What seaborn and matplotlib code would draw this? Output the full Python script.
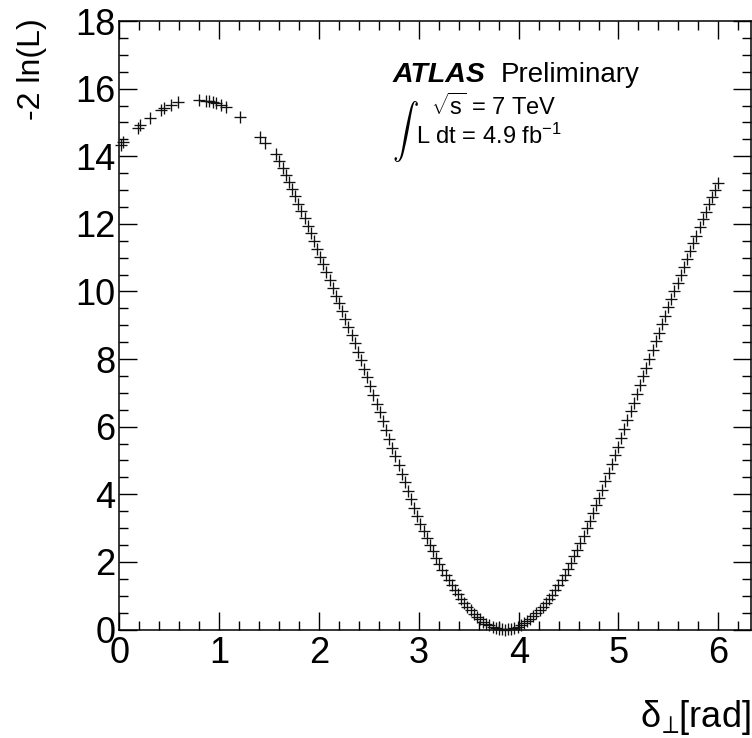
import pandas as pd
import matplotlib
matplotlib.use("Agg")
import matplotlib.pyplot as plt
import seaborn as sns
from matplotlib.ticker import MultipleLocator

# scattered scan points around the maximum
x_sparse = [0.02, 0.04, 0.185, 0.21, 0.31, 0.42, 0.45, 0.52, 0.59, 0.80,
            0.87, 0.90, 0.94, 0.97, 1.02, 1.07, 1.21, 1.41, 1.46]
y_sparse = [14.32, 14.42, 14.85, 14.93, 15.13, 15.37, 15.42, 15.53, 15.60, 15.66,
            15.64, 15.62, 15.60, 15.58, 15.52, 15.45, 15.17, 14.56, 14.40]

# dense part of the scan
x_scan = [1.571, 1.602, 1.634, 1.665, 1.696, 1.728, 1.759, 1.791, 1.822, 1.854,
          1.885, 1.916, 1.948, 1.979, 2.011, 2.042, 2.073, 2.105, 2.136, 2.168,
          2.199, 2.231, 2.262, 2.293, 2.325, 2.356, 2.388, 2.419, 2.450, 2.482,
          2.513, 2.545, 2.576, 2.608, 2.639, 2.670, 2.702, 2.733, 2.765, 2.796,
          2.827, 2.859, 2.890, 2.922, 2.953, 2.985, 3.016, 3.047, 3.079, 3.110,
          3.142, 3.173, 3.204, 3.236, 3.267, 3.299, 3.330, 3.362, 3.393, 3.424,
          3.456, 3.487, 3.519, 3.550, 3.581, 3.613, 3.644, 3.676, 3.707, 3.738,
          3.770, 3.801, 3.833, 3.864, 3.896, 3.927, 3.958, 3.990, 4.021, 4.053,
          4.084, 4.115, 4.147, 4.178, 4.210, 4.241, 4.273, 4.304, 4.335, 4.367,
          4.398, 4.430, 4.461, 4.492, 4.524, 4.555, 4.587, 4.618, 4.650, 4.681,
          4.712, 4.744, 4.775, 4.807, 4.838, 4.869, 4.901, 4.932, 4.964, 4.995,
          5.027, 5.058, 5.089, 5.121, 5.152, 5.184, 5.215, 5.246, 5.278, 5.309,
          5.341, 5.372, 5.404, 5.435, 5.466, 5.498, 5.529, 5.561, 5.592, 5.623,
          5.655, 5.686, 5.718, 5.749, 5.781, 5.812, 5.843, 5.875, 5.906, 5.938,
          5.969, 6.000]
y_scan = [14.08, 13.87, 13.66, 13.45, 13.24, 13.03, 12.82, 12.60, 12.38, 12.16,
          11.94, 11.72, 11.49, 11.26, 11.03, 10.80, 10.57, 10.34, 10.11, 9.88,
          9.65, 9.42, 9.19, 8.95, 8.71, 8.47, 8.22, 7.97, 7.72, 7.46,
          7.20, 6.94, 6.68, 6.42, 6.16, 5.90, 5.64, 5.38, 5.12, 4.86,
          4.60, 4.35, 4.10, 3.85, 3.60, 3.36, 3.13, 2.91, 2.70, 2.50,
          2.31, 2.12, 1.94, 1.77, 1.61, 1.46, 1.31, 1.17, 1.04, 0.91,
          0.79, 0.68, 0.57, 0.47, 0.38, 0.30, 0.23, 0.17, 0.12, 0.08,
          0.04, 0.02, 0.01, 0.00, 0.01, 0.02, 0.05, 0.08, 0.13, 0.18,
          0.24, 0.31, 0.39, 0.48, 0.57, 0.67, 0.78, 0.90, 1.03, 1.17,
          1.31, 1.46, 1.62, 1.79, 1.97, 2.16, 2.36, 2.57, 2.78, 3.00,
          3.22, 3.45, 3.68, 3.90, 4.14, 4.39, 4.64, 4.89, 5.15, 5.41,
          5.67, 5.93, 6.19, 6.45, 6.71, 6.97, 7.23, 7.49, 7.75, 8.01,
          8.27, 8.53, 8.78, 9.03, 9.28, 9.53, 9.77, 10.01, 10.25, 10.49,
          10.73, 10.96, 11.19, 11.42, 11.65, 11.90, 12.13, 12.36, 12.58, 12.80,
          13.01, 13.22]

df = pd.DataFrame({"delta": x_sparse + x_scan, "nll": y_sparse + y_scan})

sns.set_theme(style="ticks")
plt.rcParams["font.family"] = ["Liberation Sans", "DejaVu Sans"]
plt.rcParams["mathtext.fontset"] = "custom"
plt.rcParams["mathtext.rm"] = "Liberation Sans"
plt.rcParams["mathtext.it"] = "Liberation Sans:italic"
plt.rcParams["mathtext.bf"] = "Liberation Sans:bold"
for key in ["text.color", "axes.labelcolor", "xtick.color", "ytick.color",
            "axes.edgecolor"]:
    plt.rcParams[key] = "black"

fig = plt.figure(figsize=(7.52, 7.38), dpi=100)
ax = fig.add_axes([0.1589, 0.1470, 0.8394, 0.8245])

sns.scatterplot(data=df, x="delta", y="nll", marker="+", s=85, color="#111111",
                linewidth=0.95, ax=ax, clip_on=False, legend=False, zorder=3)

ax.set_xlim(0, 6.325)
ax.set_ylim(0, 18)
ax.xaxis.set_major_locator(MultipleLocator(1))
ax.xaxis.set_minor_locator(MultipleLocator(0.2))
ax.yaxis.set_major_locator(MultipleLocator(2))
ax.yaxis.set_minor_locator(MultipleLocator(0.5))
ax.tick_params(which="both", direction="in", top=True, right=True,
               width=1.0, color="black")
ax.tick_params(which="major", length=13, labelsize=26)
ax.tick_params(which="minor", length=6.5)
ax.tick_params(axis="x", pad=5)
ax.tick_params(axis="y", pad=3)
for sp in ax.spines.values():
    sp.set_linewidth(1.1)
    sp.set_color("black")

ax.set_ylabel("-2 ln(L)", fontsize=23, loc="top")
ax.yaxis.set_label_coords(-0.115, 1.005)
ax.set_xlabel(r"$\mathrm{\delta}_{\!\perp}\!$[rad]", fontsize=26, loc="right")
ax.xaxis.set_label_coords(1.0, -0.112)

W, H = 752, 738
fig.text(392.7 / W, 1 - 81.7 / H, "ATLAS", fontsize=20.5, fontweight="bold",
         fontstyle="italic", va="baseline")
fig.text(500.7 / W, 1 - 81.7 / H, "Preliminary", fontsize=20, va="baseline")
fig.text(392 / W, 1 - 164 / H, r"$\int$", fontsize=19, va="bottom", ha="left",
         math_fontfamily="cm")
fig.text(431 / W, 1 - 115 / H, r"$\sqrt{\mathrm{s}}$ = 7 TeV", fontsize=17,
         va="baseline")
fig.text(416 / W, 1 - 144 / H, r"L dt = 4.9 fb$^{\mathrm{-1}}$", fontsize=17,
         va="baseline")

fig.savefig("out.png", dpi=100)
